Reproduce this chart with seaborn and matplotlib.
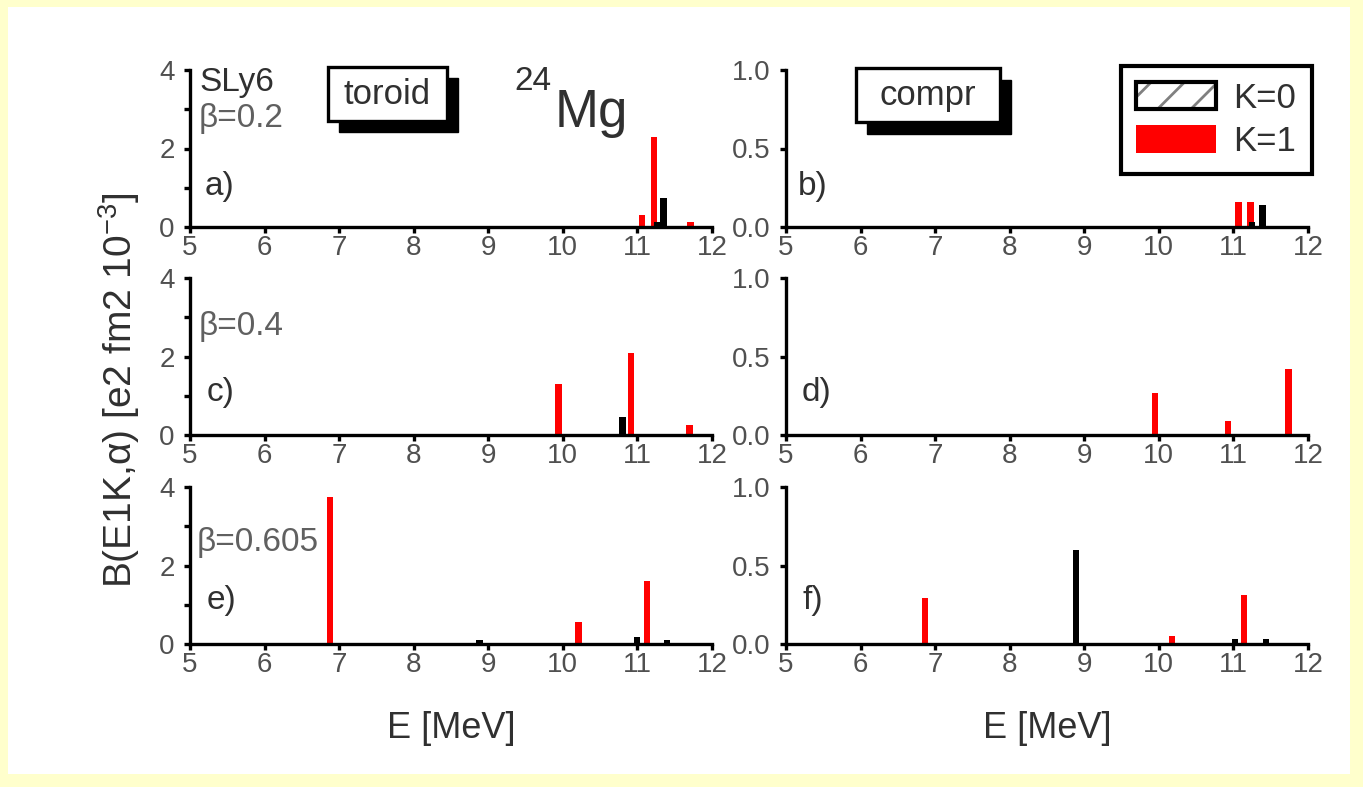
import numpy as np
import pandas as pd
import matplotlib
matplotlib.use("Agg")
import matplotlib.pyplot as plt
import seaborn as sns
from matplotlib.patches import Rectangle, Patch
from matplotlib.legend_handler import HandlerTuple

# ---------------- data ----------------
energy_ticks = [5, 6, 7, 8, 9, 10, 11, 12]
tor_yticks = [0, 2, 4]
tor_yminor = [1, 3]
com_yticks = [0.0, 0.5, 1.0]
com_yticklabels = ["0.0", "0.5", "1.0"]

a_k1_E = [11.06, 11.22, 11.71]
a_k1_B = [0.30, 2.29, 0.12]
a_k0_E = [11.27, 11.35]
a_k0_B = [0.12, 0.73]

b_k1_E = [11.07, 11.23]
b_k1_B = [0.16, 0.16]
b_k0_E = [11.25, 11.39]
b_k0_B = [0.03, 0.14]

c_k1_E = [9.94, 10.91, 11.70]
c_k1_B = [1.31, 2.10, 0.26]
c_k0_E = [10.80]
c_k0_B = [0.45]

d_k1_E = [9.95, 10.93, 11.74]
d_k1_B = [0.27, 0.09, 0.42]
d_k0_E = []
d_k0_B = []

e_k1_E = [6.88, 10.21, 11.13]
e_k1_B = [3.75, 0.55, 1.60]
e_k0_E = [8.88, 10.99, 11.40]
e_k0_B = [0.10, 0.19, 0.11]

f_k1_E = [6.86, 10.18, 11.14]
f_k1_B = [0.295, 0.053, 0.31]
f_k0_E = [8.89, 11.02, 11.44]
f_k0_B = [0.60, 0.03, 0.03]

panel_letters = ["a)", "b)", "c)", "d)", "e)", "f)"]
beta_labels = ["\u03b2=0.2", "\u03b2=0.4", "\u03b2=0.605"]
legend_labels = ["K=0", "K=1"]

# ---------------- style ----------------
sns.set_style("ticks")
plt.rcParams["font.family"] = ["Liberation Sans", "DejaVu Sans"]
plt.rcParams["mathtext.fontset"] = "custom"
plt.rcParams["mathtext.rm"] = "Liberation Sans"
plt.rcParams["mathtext.it"] = "Liberation Sans:italic"
plt.rcParams["hatch.linewidth"] = 2.0

W, H = 1363, 787
fig = plt.figure(figsize=(W / 100, H / 100), dpi=100)
fig.patch.set_facecolor("#FFFFCC")
fig.patches.append(Rectangle((8 / W, 1 - 774 / H), (1350 - 8) / W, (774 - 7) / H,
                             transform=fig.transFigure, facecolor="white",
                             edgecolor="none", zorder=-10))


def fx(x):
    return x / W


def fy(y):
    return 1 - y / H


TICK_COL = "#505050"
TXT_COL = "#303030"
BAR_W = 0.085

col_x = [190, 786]
row_bottom = [227, 435, 644]
ax_w, ax_h = 522, 157

data = [
    (a_k1_E, a_k1_B, a_k0_E, a_k0_B),
    (b_k1_E, b_k1_B, b_k0_E, b_k0_B),
    (c_k1_E, c_k1_B, c_k0_E, c_k0_B),
    (d_k1_E, d_k1_B, d_k0_E, d_k0_B),
    (e_k1_E, e_k1_B, e_k0_E, e_k0_B),
    (f_k1_E, f_k1_B, f_k0_E, f_k0_B),
]

axes = []
for i, (k1E, k1B, k0E, k0B) in enumerate(data):
    r, c = divmod(i, 2)
    ax = fig.add_axes([fx(col_x[c]), fy(row_bottom[r]), ax_w / W, ax_h / H])
    ax.set_facecolor("none")
    df = pd.DataFrame({
        "E": list(k1E) + list(k0E),
        "B": list(k1B) + list(k0B),
        "K": [legend_labels[1]] * len(k1E) + [legend_labels[0]] * len(k0E),
    })
    sns.barplot(data=df, x="E", y="B", hue="K", hue_order=legend_labels,
                palette={legend_labels[0]: "black", legend_labels[1]: "red"},
                native_scale=True, dodge=False, errorbar=None, saturation=1,
                linewidth=0, legend=False, ax=ax)
    for p in ax.patches:
        cx = p.get_x() + p.get_width() / 2
        p.set_width(BAR_W)
        p.set_x(cx - BAR_W / 2)
        if p.get_facecolor()[0] < 0.5:
            p.set_zorder(3)
        else:
            p.set_zorder(2)
    ax.set_xlim(5, 12)
    ax.set_xticks(energy_ticks)
    ax.set_xticklabels([str(t) for t in energy_ticks])
    if c == 0:
        ax.set_ylim(0, 4)
        ax.set_yticks(tor_yticks)
        ax.set_yticklabels([str(t) for t in tor_yticks])
        ax.set_yticks(tor_yminor, minor=True)
    else:
        ax.set_ylim(0, 1)
        ax.set_yticks(com_yticks)
        ax.set_yticklabels(com_yticklabels)
    ax.set_xlabel("")
    ax.set_ylabel("")
    sns.despine(ax=ax)
    for s in ["left", "bottom"]:
        ax.spines[s].set_linewidth(2.4)
        ax.spines[s].set_color("black")
    ax.tick_params(axis="both", which="both", direction="out", length=4,
                   width=2.4, color="black", labelcolor=TICK_COL, labelsize=20)
    ax.tick_params(axis="x", pad=2)
    ax.tick_params(axis="y", pad=7)
    ax.grid(False)
    axes.append(ax)

# ---------------- annotations ----------------
fig.text(fx(199), fy(82), "SLy6", fontsize=24, color=TXT_COL, va="center", ha="left")
fig.text(fx(199), fy(119), beta_labels[0], fontsize=24, color="#606060", va="center", ha="left")
fig.text(fx(199), fy(327), beta_labels[1], fontsize=24, color="#606060", va="center", ha="left")
fig.text(fx(197), fy(542), beta_labels[2], fontsize=24, color="#606060", va="center", ha="left")

letter_pos = [(205, 186), (798, 186), (207, 392), (802, 392), (207, 600), (802, 600)]
for lab, (x, y) in zip(panel_letters, letter_pos):
    fig.text(fx(x), fy(y), lab, fontsize=24, color=TXT_COL, va="center", ha="left")

# nucleus label
fig.text(fx(514), fy(81), "24", fontsize=24, color=TXT_COL, va="center", ha="left")
fig.text(fx(555), fy(113), "Mg", fontsize=38, color=TXT_COL, va="center", ha="left")


def shadow_box(x0, y0, x1, y1, dx, dy, label):
    fig.patches.append(Rectangle((fx(x0 + dx), fy(y1 + dy)), (x1 - x0) / W, (y1 - y0) / H,
                                 transform=fig.transFigure, facecolor="black",
                                 edgecolor="black", zorder=5))
    fig.patches.append(Rectangle((fx(x0), fy(y1)), (x1 - x0) / W, (y1 - y0) / H,
                                 transform=fig.transFigure, facecolor="white",
                                 edgecolor="black", linewidth=2.4, zorder=6))
    fig.text(fx((x0 + x1) / 2), fy((y0 + y1) / 2 + 1), label, fontsize=25,
             color=TXT_COL, ha="center", va="center", zorder=7)


shadow_box(328, 67, 447, 121, 11, 11, "toroid")
shadow_box(856, 68, 1000, 122, 11, 12, "compr")

# legend
hatch_patch = Patch(facecolor="white", edgecolor="#808080", hatch="/", linewidth=0)
frame_patch = Patch(facecolor="none", edgecolor="black", linewidth=3)
red_patch = Patch(facecolor="red", edgecolor="red", linewidth=0)
leg = fig.legend(handles=[(hatch_patch, frame_patch), red_patch], labels=legend_labels,
                 handler_map={tuple: HandlerTuple(ndivide=1, pad=0)},
                 loc="upper right", bbox_to_anchor=(fx(1312), fy(66)),
                 bbox_transform=fig.transFigure, fontsize=25, frameon=True,
                 framealpha=1, fancybox=False, shadow=False, borderaxespad=0,
                 borderpad=0.45, handlelength=2.3, handleheight=0.85,
                 handletextpad=0.5, labelspacing=0.3)
leg.get_frame().set_edgecolor("black")
leg.get_frame().set_linewidth(3)
for t in leg.get_texts():
    t.set_color(TXT_COL)

# axis labels
fig.text(fx(451), fy(728), "E [MeV]", fontsize=26, color=TXT_COL, ha="center", va="center")
fig.text(fx(1047), fy(728), "E [MeV]", fontsize=26, color=TXT_COL, ha="center", va="center")
fig.text(fx(119), fy(390), "B(E1K,\u03b1) [e2 fm2 10$^{-3}$]", fontsize=28,
         color=TXT_COL, ha="center", va="center", rotation=90)

fig.savefig("out.png", dpi=100, facecolor=fig.get_facecolor())
